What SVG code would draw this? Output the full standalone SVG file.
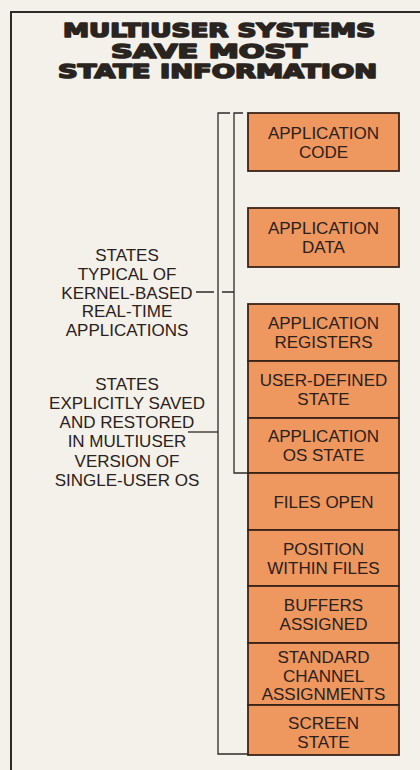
<svg xmlns="http://www.w3.org/2000/svg" width="420" height="770" viewBox="0 0 420 770">
  <style>
    .bg { fill: #f4f1ea; }
    .frame { fill: none; stroke: #2e2a28; stroke-width: 2; }
    .box { fill: #ee975e; stroke: #3a2418; stroke-width: 1.8; }
    .line { fill: none; stroke: #2e2a28; stroke-width: 1.3; }
    .t { font-family: "Liberation Sans", Arial, sans-serif; font-size: 17px; fill: #2a201c; text-anchor: middle; }
    .title { font-family: "DejaVu Sans", Lato, sans-serif; font-weight: 900; font-size: 19px; fill: #2a2420; stroke: #2a2420; stroke-width: 1.6; stroke-linejoin: round; }
  </style>
  <rect class="bg" x="0" y="0" width="420" height="770"/>
  <path class="frame" d="M11,770 V12 H420"/>

  <g id="title">
    <text class="title" x="63" y="37" textLength="312" lengthAdjust="spacingAndGlyphs">MULTIUSER SYSTEMS</text>
    <text class="title" x="111" y="57.5" textLength="196" lengthAdjust="spacingAndGlyphs">SAVE MOST</text>
    <text class="title" x="58" y="78" textLength="319" lengthAdjust="spacingAndGlyphs">STATE INFORMATION</text>
  </g>

  <g id="connectors">
    <path class="line" d="M230,113 H218 V754 H248"/>
    <path class="line" d="M243,113 H234 V473 H248"/>
    <path class="line" d="M196,292 H214 M222,292 H234"/>
    <path class="line" d="M188,432 H218"/>
  </g>

  <g id="label-kernel">
    <text class="t" x="127" y="261">STATES</text>
    <text class="t" x="127" y="280">TYPICAL OF</text>
    <text class="t" x="127" y="298.5">KERNEL-BASED</text>
    <text class="t" x="127" y="317">REAL-TIME</text>
    <text class="t" x="127" y="336">APPLICATIONS</text>
  </g>

  <g id="label-multiuser">
    <text class="t" x="127" y="390">STATES</text>
    <text class="t" x="127" y="409">EXPLICITLY SAVED</text>
    <text class="t" x="127" y="428">AND RESTORED</text>
    <text class="t" x="127" y="447">IN MULTIUSER</text>
    <text class="t" x="127" y="466.5">VERSION OF</text>
    <text class="t" x="127" y="486">SINGLE-USER OS</text>
  </g>

  <g id="app-code">
    <rect class="box" x="248" y="113" width="151" height="58"/>
    <text class="t" x="323.5" y="138.5">APPLICATION</text>
    <text class="t" x="323.5" y="157.5">CODE</text>
  </g>
  <g id="app-data">
    <rect class="box" x="248" y="208" width="151" height="59"/>
    <text class="t" x="323.5" y="234">APPLICATION</text>
    <text class="t" x="323.5" y="253">DATA</text>
  </g>
  <g id="app-registers">
    <rect class="box" x="248" y="304" width="151" height="57"/>
    <text class="t" x="323.5" y="329">APPLICATION</text>
    <text class="t" x="323.5" y="348">REGISTERS</text>
  </g>
  <g id="user-defined">
    <rect class="box" x="248" y="361" width="151" height="57"/>
    <text class="t" x="323.5" y="386">USER-DEFINED</text>
    <text class="t" x="323.5" y="405">STATE</text>
  </g>
  <g id="app-os-state">
    <rect class="box" x="248" y="418" width="151" height="55"/>
    <text class="t" x="323.5" y="442">APPLICATION</text>
    <text class="t" x="323.5" y="461">OS STATE</text>
  </g>
  <g id="files-open">
    <rect class="box" x="248" y="473" width="151" height="57"/>
    <text class="t" x="323.5" y="507.5">FILES OPEN</text>
  </g>
  <g id="position">
    <rect class="box" x="248" y="530" width="151" height="56"/>
    <text class="t" x="323.5" y="554.5">POSITION</text>
    <text class="t" x="323.5" y="573.5">WITHIN FILES</text>
  </g>
  <g id="buffers">
    <rect class="box" x="248" y="586" width="151" height="57"/>
    <text class="t" x="323.5" y="611">BUFFERS</text>
    <text class="t" x="323.5" y="630">ASSIGNED</text>
  </g>
  <g id="channels">
    <rect class="box" x="248" y="643" width="151" height="62"/>
    <text class="t" x="323.5" y="663">STANDARD</text>
    <text class="t" x="323.5" y="681.5">CHANNEL</text>
    <text class="t" x="323.5" y="700">ASSIGNMENTS</text>
  </g>
  <g id="screen-state">
    <rect class="box" x="248" y="705" width="151" height="50"/>
    <text class="t" x="323.5" y="729">SCREEN</text>
    <text class="t" x="323.5" y="748">STATE</text>
  </g>
</svg>
